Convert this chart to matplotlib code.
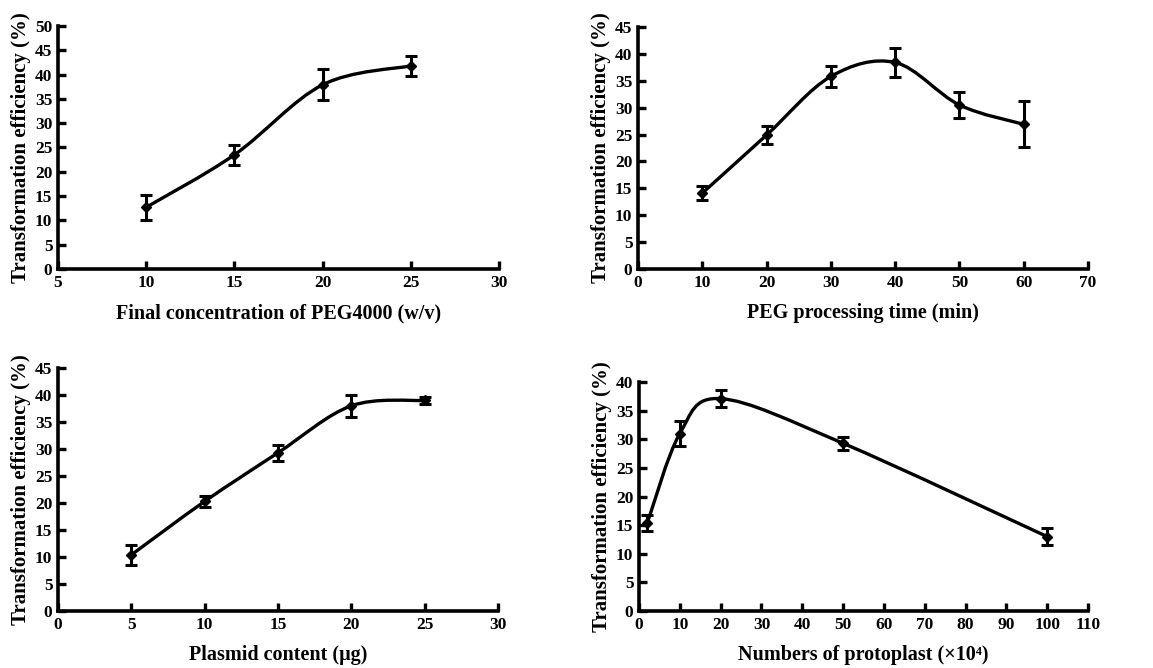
"""Four-panel transformation efficiency curves."""

import matplotlib.pyplot as plt
import numpy as np
from matplotlib.path import Path
from matplotlib.patches import PathPatch

plt.rcParams["font.family"] = ["Liberation Serif", "DejaVu Serif"]
plt.rcParams["font.weight"] = "bold"

# panel a: PEG4000 concentration
peg_conc = [10, 15, 20, 25]
peg_conc_eff = [12.7, 23.5, 37.9, 41.8]
peg_conc_err = [2.6, 2.0, 3.2, 2.0]

# panel b: PEG processing time
peg_time = [10, 20, 30, 40, 50, 60]
peg_time_eff = [14.1, 24.9, 35.8, 38.4, 30.5, 26.9]
peg_time_err = [1.3, 1.7, 2.0, 2.7, 2.5, 4.3]

# panel c: plasmid content
plasmid = [5, 10, 15, 20, 25]
plasmid_eff = [10.4, 20.3, 29.3, 38.0, 39.0]
plasmid_err = [1.8, 1.0, 1.5, 2.0, 0.7]

# panel d: protoplast number
protoplast = [2, 10, 20, 50, 100]
protoplast_eff = [15.3, 31.0, 37.1, 29.3, 13.0]
protoplast_err = [1.4, 2.2, 1.5, 1.1, 1.5]

YLABEL = "Transformation efficiency (%)"


def smooth_path(x, y):
    """Catmull-Rom style bezier through the points (like a spreadsheet smoothed line)."""
    x = np.asarray(x, float)
    y = np.asarray(y, float)
    n = len(x)
    verts = [(x[0], y[0])]
    codes = [Path.MOVETO]
    for i in range(n - 1):
        i0 = max(i - 1, 0)
        i3 = min(i + 2, n - 1)
        c1 = (x[i] + (x[i + 1] - x[i0]) / 6, y[i] + (y[i + 1] - y[i0]) / 6)
        c2 = (x[i + 1] - (x[i3] - x[i]) / 6, y[i + 1] - (y[i3] - y[i]) / 6)
        verts += [c1, c2, (x[i + 1], y[i + 1])]
        codes += [Path.CURVE4] * 3
    return Path(verts, codes)


def draw_panel(ax, x, y, err, xlim, xstep, ylim, xlabel):
    ax.add_patch(PathPatch(smooth_path(x, y), fill=False, lw=2.4, color="black"))
    ax.errorbar(x, y, yerr=err, fmt="D", color="black", ms=5.5, elinewidth=2.2,
                capsize=4, capthick=2.2)
    ax.set_xlim(*xlim)
    ax.set_ylim(*ylim)
    ax.set_xticks(np.arange(xlim[0], xlim[1] + 0.1, xstep))
    ax.set_yticks(np.arange(0, ylim[1] + 0.1, 5))
    for s in ("top", "right"):
        ax.spines[s].set_visible(False)
    for s in ("left", "bottom"):
        ax.spines[s].set_linewidth(2.6)
    ax.tick_params(direction="in", length=6, width=2.4, labelsize=12.5, pad=4)
    ax.set_xlabel(xlabel, fontsize=14.5, fontweight="bold", labelpad=9)
    ax.set_ylabel(YLABEL, fontsize=15, fontweight="bold", labelpad=3)


fig = plt.figure(figsize=(11.53, 6.68), dpi=100)
ax1 = fig.add_axes([0.0503, 0.5973, 0.3825, 0.3638])
ax2 = fig.add_axes([0.5533, 0.5973, 0.3903, 0.3623])
ax3 = fig.add_axes([0.0503, 0.0853, 0.3816, 0.3638])
ax4 = fig.add_axes([0.5542, 0.0853, 0.3894, 0.3428])

draw_panel(ax1, peg_conc, peg_conc_eff, peg_conc_err, (5, 30), 5, (0, 50),
           "Final concentration of PEG4000 (w/v)")
draw_panel(ax2, peg_time, peg_time_eff, peg_time_err, (0, 70), 10, (0, 45),
           "PEG processing time (min)")
draw_panel(ax3, plasmid, plasmid_eff, plasmid_err, (0, 30), 5, (0, 45),
           "Plasmid content (\u03bcg)")
draw_panel(ax4, protoplast, protoplast_eff, protoplast_err, (0, 110), 10, (0, 40),
           "Numbers of protoplast (\u00d710\u2074)")

fig.savefig("out.png", dpi=100)
